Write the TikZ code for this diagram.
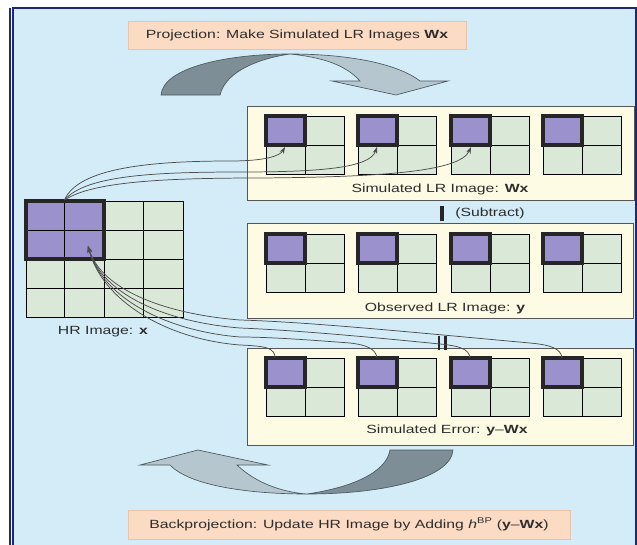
\documentclass[tikz,border=0pt]{standalone}
\usepackage{fontspec}
\usetikzlibrary{arrows.meta}
\newfontfamily\labfont[FakeStretch=1.33,Ligatures=TeX]{Liberation Sans}
\definecolor{bgblue}{RGB}{211,236,248}
\definecolor{bannerfill}{RGB}{252,219,196}
\definecolor{bannerline}{RGB}{232,195,170}
\definecolor{boxfill}{RGB}{253,251,228}
\definecolor{boxline}{RGB}{85,85,85}
\definecolor{cellfill}{RGB}{218,232,216}
\definecolor{purp}{RGB}{155,145,205}
\definecolor{ribdark}{RGB}{126,142,150}
\definecolor{riblight}{RGB}{182,198,207}
\definecolor{ribedge}{RGB}{75,90,96}
\definecolor{navy}{RGB}{30,40,120}
\definecolor{txt}{RGB}{45,45,45}
\tikzset{
  lbl/.style={font=\labfont\fontsize{8.9}{10.5}\selectfont, text=txt, inner sep=0pt},
  banner/.style={lbl, fill=bannerfill, draw=bannerline, line width=0.6pt},
  lrbox/.style={fill=boxfill, draw=boxline, line width=0.6pt, inner sep=0pt},
  gridline/.style={draw=black, line width=0.6pt},
  thickb/.style={draw=black!85, line width=2.6pt},
  conn/.style={draw=black!70, line width=0.55pt},
  ribbon/.style={draw=ribedge, line width=0.5pt},
  lrgrid/.pic={
    \fill[cellfill] (0,0) rectangle (78,58);
    \draw[gridline] (0,0) rectangle (78,58) (39,0) -- (39,58) (0,29) -- (78,29);
    \fill[purp] (0,0) rectangle (39,29);
    \draw[thickb] (0,0) rectangle (39,29);
  }
}
\begin{document}
\begin{tikzpicture}[x=0.75pt,y=-0.75pt]
\useasboundingbox (0,0) rectangle (637,544);
% background and frame
\fill[white] (0,0) rectangle (637,544);
\fill[bgblue] (13,8) rectangle (636,548);
\draw[navy, line width=0.8pt] (13,548) -- (13,8) -- (636,8) -- (636,548);
\draw[navy, line width=0.8pt] (10,8) -- (10,548);

% banners
\node[banner, minimum width=253.5pt, minimum height=21pt] (proj) at (297,35)
  {Projection: Make Simulated LR Images \textbf{Wx}};
\node[banner, minimum width=331.5pt, minimum height=21.75pt] (backproj) at (349,524.5)
  {Backprojection: Update HR Image by Adding \textit{h}\textsuperscript{BP} (\textbf{y}\textendash\textbf{Wx})};

% top ribbon arrow
\filldraw[ribbon, fill=ribdark] (161,95) .. controls (163,68) and (225,54) .. (290,54)
  .. controls (262,58) and (226,70) .. (220,95) -- cycle;
\filldraw[ribbon, fill=riblight] (290,54) .. controls (350,54) and (398,64) .. (420,81)
  -- (448,81) -- (396,95) -- (332,81) -- (360,81)
  .. controls (345,64) and (320,57) .. (290,54) -- cycle;

% bottom ribbon arrow
\filldraw[ribbon, fill=ribdark] (453,450) .. controls (451,478) and (385,494) .. (307,494)
  .. controls (348,488) and (386,474) .. (390,450) -- cycle;
\filldraw[ribbon, fill=riblight] (307,494) .. controls (250,494) and (190,486) .. (170,465)
  -- (140,465) -- (198,450) -- (268,465) -- (237,465)
  .. controls (255,482) and (280,492) .. (307,494) -- cycle;

% LR boxes
\node[lrbox, minimum width=290.25pt, minimum height=70.5pt] (simbox) at (440.5,153) {};
\node[lrbox, minimum width=289.5pt, minimum height=71.25pt] (obsbox) at (440,270.5) {};
\node[lrbox, minimum width=289.5pt, minimum height=72.75pt] (errbox) at (440,396.5) {};

% LR grids
\foreach \gx [count=\i] in {266,358,451,543}{
  \pic (simg\i) at (\gx,116) {lrgrid};
  \pic (obsg\i) at (\gx,234) {lrgrid};
  \pic (errg\i) at (\gx,358) {lrgrid};
}

\node[lbl] (simlabel) at (440,189) {Simulated LR Image: \textbf{Wx}};
\node[lbl] (obslabel) at (445,308) {Observed LR Image: \textbf{y}};
\node[lbl] (errlabel) at (447,430) {Simulated Error: \textbf{y}\textendash\textbf{Wx}};

% subtract and equals marks
\draw[black!85, line width=2.4pt] (442,206) coordinate (subtop) -- (442,221) coordinate (subbot);
\node[lbl, anchor=west] (subtract) at (455,213.5) {(Subtract)};
\draw[black!85, line width=2.1pt] (439,336) -- (439,350) (445.5,336) -- (445.5,350);

% HR grid
\fill[cellfill] (26,201) rectangle (183,317);
\foreach \cx in {64.5,104,143.5}{\draw[gridline] (\cx,201) -- (\cx,317);}
\foreach \cy in {230,259,288}{\draw[gridline] (26,\cy) -- (183,\cy);}
\draw[gridline] (26,201) rectangle (183,317);
\fill[purp] (26,201) rectangle (104,259);
\draw[gridline] (64.5,201) -- (64.5,259) (26,230) -- (104,230);
\draw[thickb] (26,201) rectangle (104,259);
\node[lbl] (hrlabel) at (103,332) {HR Image: \textbf{x}};

% connector end points
\coordinate (hrtop) at (64.5,200);
\coordinate (hrtip) at (88,246);
\coordinate (pt1) at (285,147);
\coordinate (pt2) at (377,147);
\coordinate (pt3) at (471,147);
\coordinate (e1) at (275,358);
\coordinate (e2) at (377,358);
\coordinate (e3) at (470,358);
\coordinate (e4) at (562,358);

% projection connectors
\draw[conn, -{Stealth[length=5pt,width=3.5pt]}] (hrtop) .. controls (78,168) and (150,161) .. (230,161)
  .. controls (265,161) and (280,156) .. (pt1);
\draw[conn, -{Stealth[length=5pt,width=3.5pt]}] (hrtop) .. controls (85,176) and (150,172) .. (240,172)
  .. controls (320,172) and (370,168) .. (pt2);
\draw[conn, -{Stealth[length=5pt,width=3.5pt]}] (hrtop) .. controls (92,182) and (160,178) .. (260,178)
  .. controls (380,177) and (460,172) .. (pt3);

% backprojection connectors
\draw[conn, -{Stealth[length=5pt,width=3.5pt]}] (e1) .. controls (275,348) and (266,346) .. (240,345)
  .. controls (165,339) and (102,300) .. (hrtip);
\draw[conn, -{Stealth[length=5pt,width=3.5pt]}] (e2) .. controls (376,349) and (367,345) .. (350,343)
  .. controls (310,340) and (270,337) .. (240,337)
  .. controls (165,331) and (102,297) .. (hrtip);
\draw[conn, -{Stealth[length=5pt,width=3.5pt]}] (e3) .. controls (469,349) and (460,346) .. (440,344)
  .. controls (360,336) and (290,330) .. (240,328)
  .. controls (165,322) and (102,294) .. (hrtip);
\draw[conn, -{Stealth[length=5pt,width=3.5pt]}] (e4) .. controls (561,349) and (552,345) .. (530,343)
  .. controls (420,333) and (310,322) .. (240,320)
  .. controls (165,314) and (102,290) .. (hrtip);
\end{tikzpicture}
\end{document}
